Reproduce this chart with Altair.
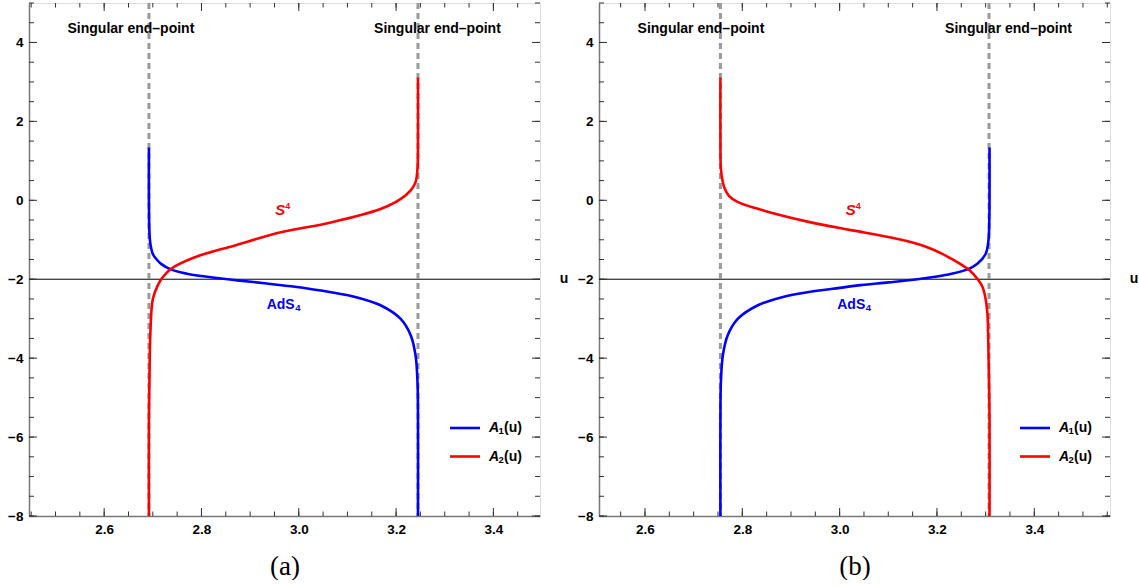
import altair as alt
import pandas as pd

# ---------------- panel (a) ----------------
a_xdom = [2.4455, 3.4958]
a_blue_x = [2.692, 2.692, 2.693, 2.695, 2.700, 2.708, 2.717, 2.737, 2.770, 2.800, 2.867,
            2.930, 2.984, 3.066, 3.120, 3.168, 3.209, 3.230, 3.240, 3.244, 3.245, 3.245]
a_blue_y = [1.34, 0.00, -0.80, -1.10, -1.36, -1.50, -1.61, -1.75, -1.86, -1.92, -2.02,
            -2.10, -2.18, -2.33, -2.46, -2.66, -3.00, -3.42, -3.93, -4.60, -5.50, -8.00]
a_red_x = [2.692, 2.692, 2.693, 2.695, 2.700, 2.710, 2.718, 2.737, 2.785, 2.867,
           2.963, 3.066, 3.168, 3.209, 3.230, 3.240, 3.244, 3.245, 3.245]
a_red_y = [-8.00, -5.50, -4.60, -3.35, -2.50, -2.16, -1.99, -1.74, -1.45, -1.15,
           -0.81, -0.56, -0.22, 0.03, 0.25, 0.46, 0.80, 1.50, 3.11]
a_singular = [2.692, 3.245]
a_singular_text_x = [2.655, 3.285]
a_label_x = 2.969

# ---------------- panel (b) ----------------
b_xdom = [2.5055, 3.5556]
b_blue_x = [2.755, 2.755, 2.756, 2.760, 2.770, 2.791, 2.832, 2.880, 2.934,
            3.000, 3.044, 3.100, 3.160, 3.200, 3.230, 3.263, 3.283, 3.300, 3.305, 3.307,
            3.308, 3.308]
b_blue_y = [-8.00, -5.50, -4.60, -3.93, -3.42, -3.00, -2.66, -2.46, -2.33,
            -2.22, -2.15, -2.08, -2.00, -1.93, -1.86, -1.75, -1.61, -1.36, -1.10, -0.80,
            0.00, 1.34]
b_red_x = [2.755, 2.755, 2.756, 2.760, 2.764, 2.772, 2.790, 2.830, 2.873, 2.934, 3.003,
           3.044, 3.100, 3.140, 3.180, 3.208, 3.229, 3.250, 3.267, 3.283, 3.293, 3.300,
           3.304, 3.305, 3.307, 3.308, 3.308]
b_red_y = [3.11, 1.50, 0.80, 0.46, 0.29, 0.12, -0.04, -0.21, -0.36, -0.54, -0.71,
           -0.80, -0.93, -1.04, -1.19, -1.34, -1.48, -1.63, -1.77, -1.99, -2.18, -2.50,
           -2.93, -3.35, -4.60, -5.50, -8.00]
b_singular = [2.755, 3.307]
b_singular_text_x = [2.715, 3.347]
b_label_x = 3.030

# ---------------- shared ----------------
y_dom = [-8, 5]
x_major = [2.6, 2.8, 3.0, 3.2, 3.4]
y_major = [-8, -6, -4, -2, 0, 2, 4]
axis_u = -2.0
singular_label = "Singular end\u2013point"
singular_y = 4.35
s4_y = -0.24
ads4_y = -2.65
series_subs = ["1", "2"]
series_colors = ["#0000ff", "#ff0000"]

W, H = 511, 513
SANS = "Liberation Sans"


def minor_ticks(lo, hi, step):
    out = []
    k = int(lo / step) - 1
    while k * step <= hi + 1e-9:
        v = round(k * step, 4)
        if lo - 1e-9 <= v <= hi + 1e-9:
            out.append(v)
        k += 1
    return out


def panel(xdom, bx, by, rx, ry, singular, sing_text_x, label_x, tag):
    xs = alt.Scale(domain=xdom, nice=False, zero=False)
    ys = alt.Scale(domain=y_dom, nice=False, zero=False)
    common = dict(ticks=False, tickSize=0, labelPadding=6, grid=False, domain=True,
                  domainColor="#777777", domainWidth=1.5, labelFont=SANS,
                  labelFontWeight="bold", labelFontSize=13.5, labelColor="black")
    xaxis = alt.Axis(values=x_major, format=".1f", title=tag,
                     titleFont="Liberation Serif", titleFontWeight="normal",
                     titleFontSize=27, titleColor="black", titlePadding=18, **common)
    yaxis = alt.Axis(values=y_major, format="d", title=None, **common)

    def X(field="x"):
        return alt.X(f"{field}:Q", scale=xs, axis=xaxis)

    def Y(field="y"):
        return alt.Y(f"{field}:Q", scale=ys, axis=yaxis)

    layers = []

    # horizontal axis line at u = -2
    layers.append(
        alt.Chart(pd.DataFrame({"y": [axis_u]}))
        .mark_rule(color="black", strokeWidth=1)
        .encode(y=Y())
    )
    # singular end-points
    layers.append(
        alt.Chart(pd.DataFrame({"x": singular}))
        .mark_rule(color="#9a9a9a", strokeWidth=3, strokeDash=[6, 4])
        .encode(x=X())
    )
    # curves
    for cx, cy, col in [(bx, by, series_colors[0]), (rx, ry, series_colors[1])]:
        df = pd.DataFrame({"x": cx, "y": cy, "i": list(range(len(cx)))})
        layers.append(
            alt.Chart(df)
            .mark_line(color=col, strokeWidth=2.6, interpolate="catmull-rom", clip=True)
            .encode(x=X(), y=Y(), order=alt.Order("i:Q"))
        )
    # singular end-point labels
    layers.append(
        alt.Chart(pd.DataFrame({"x": sing_text_x, "y": [singular_y] * 2,
                                "t": [singular_label] * 2}))
        .mark_text(font=SANS, fontWeight="bold", fontSize=14, color="black",
                   align="center", baseline="middle")
        .encode(x=X(), y=Y(), text="t:N")
    )
    # S^4 and AdS_4 labels
    lab = pd.DataFrame({"x": [label_x], "ys": [s4_y], "ya": [ads4_y]})
    layers += [
        alt.Chart(lab).mark_text(text="S", font=SANS, fontWeight="bold", fontStyle="italic",
                                 fontSize=15, color="#ff0000", align="right",
                                 baseline="middle", dx=1.5).encode(x=X(), y=Y("ys")),
        alt.Chart(lab).mark_text(text="4", font=SANS, fontWeight="bold", fontSize=9,
                                 color="#ff0000", align="left", baseline="middle",
                                 dx=1.5, dy=-4).encode(x=X(), y=Y("ys")),
        alt.Chart(lab).mark_text(text="AdS", font=SANS, fontWeight="bold", fontSize=14,
                                 color="#0000ff", align="right", baseline="middle",
                                 dx=11).encode(x=X(), y=Y("ya")),
        alt.Chart(lab).mark_text(text="4", font=SANS, fontWeight="bold", fontSize=9.5,
                                 color="#0000ff", align="left", baseline="middle",
                                 dx=11.5, dy=3).encode(x=X(), y=Y("ya")),
    ]
    # "u" at the end of the horizontal axis
    layers.append(
        alt.Chart(pd.DataFrame({"y": [axis_u]}))
        .mark_text(text="u", font=SANS, fontWeight="bold", fontSize=14, color="black",
                   align="center", baseline="middle")
        .encode(x=alt.value(W + 24), y=Y())
    )
    # frame ticks (inward), major and minor
    xmin = minor_ticks(xdom[0], xdom[1], 0.05)
    ymin = minor_ticks(y_dom[0], y_dom[1], 0.5)
    for vals, ln in [(x_major, 8), (xmin, 4.5)]:
        d = pd.DataFrame({"x": vals})
        layers.append(alt.Chart(d).mark_rule(color="#333333", strokeWidth=1)
                      .encode(x=X(), y=alt.value(H), y2=alt.value(H - ln)))
        layers.append(alt.Chart(d).mark_rule(color="#333333", strokeWidth=1)
                      .encode(x=X(), y=alt.value(0), y2=alt.value(ln)))
    for vals, ln in [(y_major, 8), (ymin, 5)]:
        d = pd.DataFrame({"y": vals})
        layers.append(alt.Chart(d).mark_rule(color="#333333", strokeWidth=1)
                      .encode(y=Y(), x=alt.value(0), x2=alt.value(ln)))
        layers.append(alt.Chart(d).mark_rule(color="#333333", strokeWidth=1)
                      .encode(y=Y(), x=alt.value(W), x2=alt.value(W - ln)))
    # legend
    for k in range(2):
        yy = 425 + 28.5 * k
        one = pd.DataFrame({"k": [k]})
        layers.append(
            alt.Chart(one).mark_rule(color=series_colors[k], strokeWidth=2.6)
            .encode(x=alt.value(421), x2=alt.value(451), y=alt.value(yy))
        )
        layers.append(
            alt.Chart(one).mark_text(text="A", font=SANS, fontWeight="bold",
                                     fontStyle="italic", fontSize=14, color="black",
                                     align="left", baseline="middle")
            .encode(x=alt.value(460), y=alt.value(yy))
        )
        layers.append(
            alt.Chart(one).mark_text(text=series_subs[k], font=SANS, fontWeight="bold",
                                     fontSize=9.5, color="black", align="left",
                                     baseline="middle")
            .encode(x=alt.value(469.5), y=alt.value(yy + 3))
        )
        layers.append(
            alt.Chart(one).mark_text(text="(u)", font=SANS, fontWeight="bold",
                                     fontSize=14, color="black", align="left",
                                     baseline="middle")
            .encode(x=alt.value(475), y=alt.value(yy))
        )

    return alt.layer(*layers).properties(width=W, height=H)


pa = panel(a_xdom, a_blue_x, a_blue_y, a_red_x, a_red_y, a_singular,
           a_singular_text_x, a_label_x, "(a)")
pb = panel(b_xdom, b_blue_x, b_blue_y, b_red_x, b_red_y, b_singular,
           b_singular_text_x, b_label_x, "(b)")

chart = (
    alt.hconcat(pa, pb, spacing=59, bounds="flush")
    .properties(padding={"left": 7, "top": 1, "right": 0, "bottom": 0})
    .configure_view(stroke="#222222", strokeWidth=1)
    .configure(background="white")
)

chart.save("out.html", embed_options={"renderer": "svg", "actions": False})
